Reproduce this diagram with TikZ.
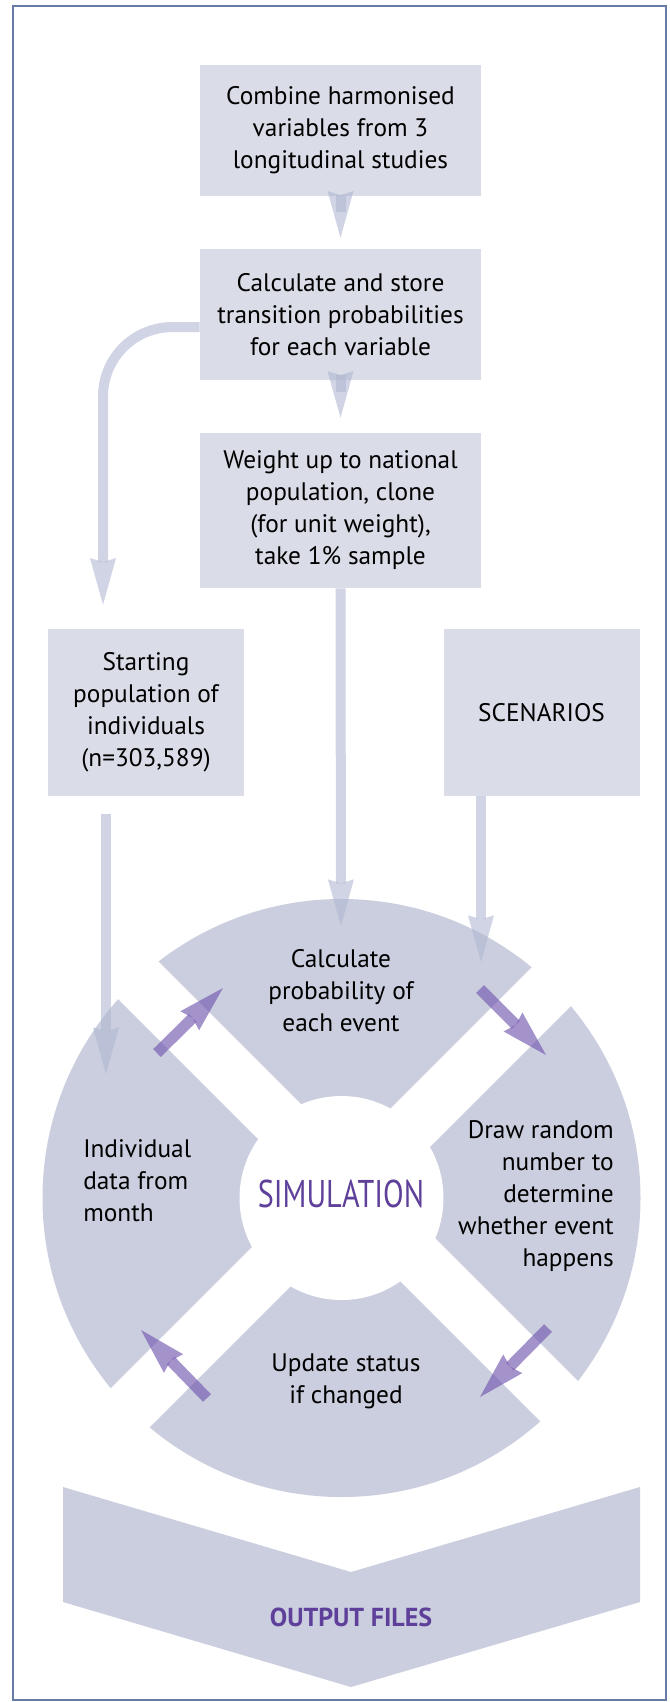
\documentclass[tikz,border=0pt]{standalone}
\usepackage{fontspec}
\setmainfont{PT Sans}
\usepackage{tikz}
\usetikzlibrary{arrows.meta}

\definecolor{boxgray}{RGB}{218,221,231}
\definecolor{sectorgray}{RGB}{202,206,222}
\definecolor{arrowgray}{RGB}{176,184,210}
\definecolor{arrowpurple}{RGB}{116,88,176}
\definecolor{simpurple}{RGB}{94,64,154}
\definecolor{framecol}{RGB}{104,122,166}

\newcommand{\boxfont}{\fontsize{19}{24}\selectfont}

\begin{document}
\begin{tikzpicture}[x=0.75pt,y=0.75pt,yscale=-1,xscale=1,
        box/.style={fill=boxgray,align=center,inner sep=0pt,minimum width=210.75pt,font=\boxfont},
        sidebox/.style={fill=boxgray,align=center,inner sep=0pt,minimum width=147pt,minimum height=125.25pt,font=\boxfont},
        sectortext/.style={align=center,inner sep=0pt,font=\boxfont},
        grayarrow/.style={draw=arrowgray,line width=7.5pt,opacity=0.6,-{Stealth[width=19.5pt,length=35pt,inset=3pt,line width=0pt]}},
        purplearrow/.style={draw=arrowpurple,line width=8.25pt,opacity=0.65,-{Stealth[width=20pt,length=35pt,inset=3pt,line width=0pt]}}]
        \useasboundingbox (0,0) rectangle (669,1702);
        \draw [framecol,line width=1.5pt] (13,6) rectangle (666,1700);

        \draw (340.5,130.5) node [box,minimum height=98.25pt] (combine) {Combine harmonised\\variables from 3\\longitudinal studies};
        \draw (340.5,314.5) node [box,minimum height=98.25pt] (calcstore) {Calculate and store\\transition probabilities\\for each variable};
        \draw (340.5,510.5) node [box,minimum height=116.25pt] (weightup) {Weight up to national\\population, clone\\(for unit weight),\\take 1\% sample};
        \draw (146,712.5) node [sidebox] (startpop) {Starting\\population of\\individuals\\(n=303,589)};
        \draw (541.5,712.5) node [sidebox] (scenarios) {SCENARIOS};

        \fill [sectorgray] (341.5,1198) circle [radius=299];
        \begin{scope}
        \clip (341.5,1198) circle [radius=301];
        \draw [white,line width=41.25pt] (21,863) -- (661,1503);
        \draw [white,line width=41.25pt] (661,877) -- (21,1517);
        \end{scope}
        \fill [white] (341.5,1198) circle [radius=102];
        \fill [sectorgray] (63,1487) -- (351,1572) -- (640,1487) -- (640,1602) -- (351,1687) -- (63,1602) -- cycle;

        \draw (341,991) node [sectortext] (probevent) {Calculate\\probability of\\each event};
        \draw (83,1181) node [sectortext,anchor=west,align=left] (indiv) {Individual\\data from\\month};
        \draw (614,1196) node [sectortext,anchor=east,align=right] (drawrand) {Draw random\\number to\\determine\\whether event\\happens};
        \draw (346,1381) node [sectortext] (update) {Update status\\if changed};
        \draw (341,1194) node [inner sep=0pt,text=simpurple,font=\fontsize{29}{30}\selectfont] (simul) {\scalebox{0.78}[1]{SIMULATION}};
        \draw (351,1617) node [inner sep=0pt,text=simpurple,font=\fontsize{19.5}{22}\selectfont\bfseries] (output) {OUTPUT FILES};

        \coordinate (topin) at (341,926);
        \coordinate (scenin) at (481,962);
        \coordinate (indivin) at (106,1074);
        \coordinate (indivout) at (157,1053);
        \coordinate (probin) at (223,988);
        \coordinate (probout) at (480,989);
        \coordinate (drawin) at (546,1055);
        \coordinate (drawout) at (548,1328);
        \coordinate (updatein) at (480,1397);
        \coordinate (updateout) at (207,1398);
        \coordinate (indivback) at (141,1330);

        \draw [grayarrow] ([yshift=12pt]combine.south) -- ([yshift=-8.25pt]calcstore.north);
        \draw [grayarrow] ([yshift=9pt]calcstore.south) -- ([yshift=-11.25pt]weightup.north);
        \draw [grayarrow,rounded corners=52pt] ([yshift=9.4pt]calcstore.west) -| ([xshift=-32.25pt,yshift=-18pt]startpop.north);
        \draw [grayarrow] (weightup.south) -- (topin);
        \draw [grayarrow] (scenarios.south -| scenin) -- (scenin);
        \draw [grayarrow] ([yshift=13.5pt]startpop.south -| indivin) -- (indivin);

        \draw [purplearrow] (indivout) -- (probin);
        \draw [purplearrow] (probout) -- (drawin);
        \draw [purplearrow] (drawout) -- (updatein);
        \draw [purplearrow] (updateout) -- (indivback);
\end{tikzpicture}
\end{document}
